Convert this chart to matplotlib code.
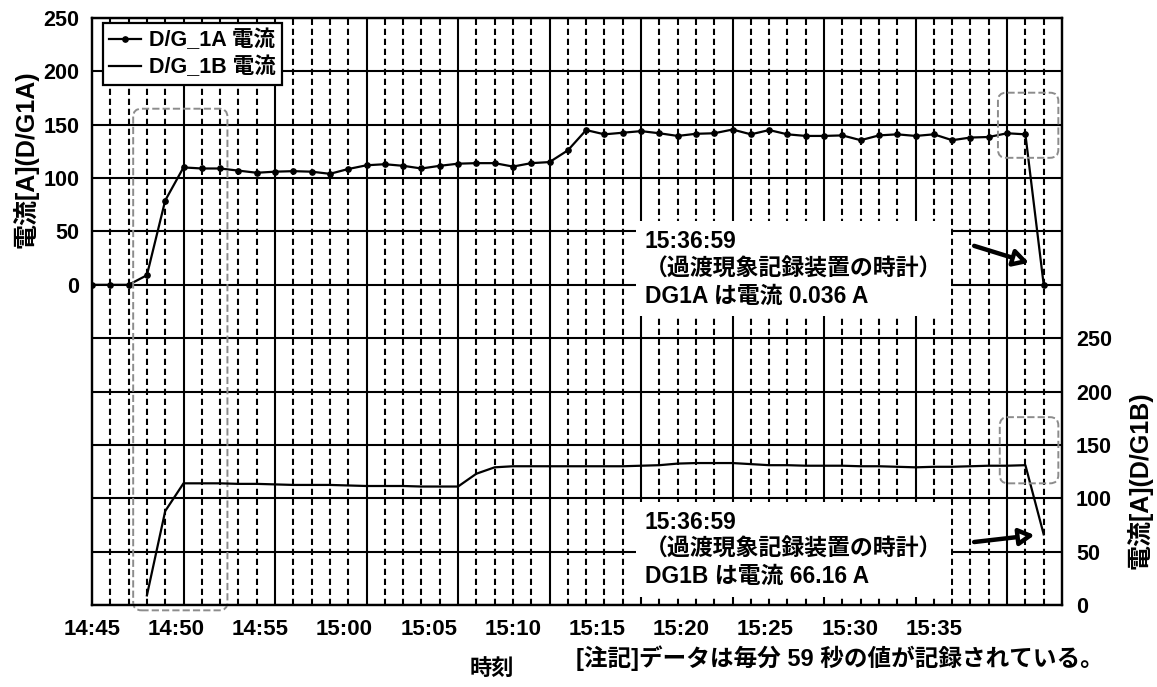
"""D/G 1A / 1B current trend (14:45 - 15:37), recorded every minute at :59 s."""
import numpy as np
import matplotlib
matplotlib.use("Agg")
import matplotlib.pyplot as plt
from matplotlib.patches import FancyBboxPatch

plt.rcParams['font.family'] = ['Liberation Sans', 'Noto Sans CJK JP', 'DejaVu Sans']
plt.rcParams['font.weight'] = 'bold'

# sample index = minutes after 14:44:59
minutes_a = np.arange(53)
dg1a = [0, 0, 0, 9, 79, 110, 109, 109, 107, 105, 106, 106.5, 106, 104, 108.5,
        112, 113, 111.5, 109, 111.5, 113.5, 114, 114, 110.8, 114, 115, 126,
        145, 141, 142.5, 144, 142, 139.5, 141.5, 142, 145.5, 141, 145, 141,
        139.5, 139.5, 140, 135.5, 140, 141, 139.5, 141, 135.5, 138, 138.5,
        142, 141, 0.036]
minutes_b = np.arange(3, 53)
dg1b = [9, 88, 114, 114, 114, 113.5, 113.5, 113, 112.5, 112.5, 112.5, 112,
        111.5, 111.5, 111.5, 111, 111, 111, 123, 129, 130, 130, 130, 130, 130,
        130, 130, 130.5, 131, 132.5, 133, 133, 133, 132, 131, 131, 130.5,
        130.5, 130.5, 130, 130, 129.5, 129, 129.5, 129.5, 130, 130.5, 130.5,
        131, 66.16]

time_labels = ["14:45", "14:50", "14:55", "15:00", "15:05", "15:10",
               "15:15", "15:20", "15:25", "15:30", "15:35"]
label_step = 4.6          # labels in the original are not on the grid
left_ticks = np.arange(-300, 251, 50)
right_ticks = np.arange(0, 251, 50)

note_a = "15:36:59\n（過渡現象記録装置の時計）\nDG1A は電流 0.036 A"
note_b = "15:36:59\n（過渡現象記録装置の時計）\nDG1B は電流 66.16 A"

W, H = 1157, 687
fig = plt.figure(figsize=(W / 100, H / 100), dpi=100)
ax = fig.add_axes([92 / W, 1 - 605 / H, 970 / W, 587 / H])
ax2 = ax.twinx()

ax.set_xlim(0, 53)
ax.set_ylim(-300, 250)
ax2.set_ylim(0, 550)

# grid: dashed every minute, solid every 5 minutes
mins = np.arange(1, 53)
ax.vlines(mins[mins % 5 != 0], -300, 250, colors='k', lw=1.5,
          linestyles=(0, (3, 1.8)), zorder=1)
ax.vlines(mins[mins % 5 == 0], -300, 250, colors='k', lw=1.5, zorder=1)
ax.set_yticks(left_ticks, [str(v) if v >= 0 else "" for v in left_ticks])
ax.yaxis.grid(True, color='k', lw=1.5, zorder=1)
ax.set_axisbelow(True)
ax2.set_yticks(right_ticks, [str(v) for v in right_ticks])

ax.set_xticks(np.arange(len(time_labels)) * label_step, time_labels)
ax.tick_params(axis='x', length=0, pad=10, labelsize=16)
ax.tick_params(axis='y', length=0, pad=9, labelsize=15.5)
ax2.tick_params(axis='y', length=0, pad=10, labelsize=15.5)
for a in (ax, ax2):
    for sp in a.spines.values():
        sp.set_linewidth(1.6)

la, = ax.plot(minutes_a, dg1a, color='k', lw=1.6, marker='o', ms=3.8,
              zorder=4, label="D/G_1A 電流")
lb, = ax2.plot(minutes_b, dg1b, color='k', lw=1.6, zorder=4,
               label="D/G_1B 電流")

# highlight boxes (rounded, dashed grey)
box_kw = dict(boxstyle="round,pad=0,rounding_size=0.45", fill=False,
              ec='#8c8c8c', ls='--', lw=1.4, clip_on=False, zorder=5)
ax.add_patch(FancyBboxPatch((2.25, -305), 5.15, 470, mutation_aspect=17.2,
                            **box_kw))
ax.add_patch(FancyBboxPatch((49.5, 119), 3.3, 61, mutation_aspect=17.2,
                            **box_kw))
ax2.add_patch(FancyBboxPatch((49.6, 114), 3.2, 62, mutation_aspect=17.2,
                             **box_kw))

txt_kw = dict(ha='left', va='top', fontsize=16.5, linespacing=1.22, zorder=3,
              bbox=dict(fc='white', ec='none', boxstyle='square,pad=0.4'))
ax.text(30.2, 51, note_a, **txt_kw)
ax2.text(30.2, 88, note_b, **txt_kw)
arrow = dict(arrowstyle='-|>,head_length=0.9,head_width=0.5', lw=3.2,
             fc='white', ec='k', shrinkA=0, shrinkB=0)
ax.annotate("", xy=(51.2, 20.6), xytext=(48.2, 36.5), arrowprops=arrow,
            zorder=6)
ax2.annotate("", xy=(51.5, 65.5), xytext=(48.2, 59), arrowprops=arrow,
             zorder=6)

leg = ax.legend(handles=[la, lb], loc='upper left',
                bbox_to_anchor=(0.011, 0.991), borderaxespad=0,
                fancybox=False, edgecolor='k', framealpha=1, fontsize=15.5,
                handlelength=1.5, handletextpad=0.35, numpoints=1,
                borderpad=0.3, labelspacing=0.25)
leg.get_frame().set_linewidth(1.6)
leg.set_zorder(7)

fig.text(0.022, 0.769, "電流[A](D/G1A)", rotation=90, ha='center',
         va='center', fontsize=18)
fig.text(0.985, 0.301, "電流[A](D/G1B)", rotation=90, ha='center',
         va='center', fontsize=18)
fig.text(0.425, 0.026, "時刻", ha='center', va='center', fontsize=16)
fig.text(0.498, 0.042, "[注記]データは毎分 59 秒の値が記録されている。",
         ha='left', va='center', fontsize=17)

fig.savefig("out.png", dpi=100)
